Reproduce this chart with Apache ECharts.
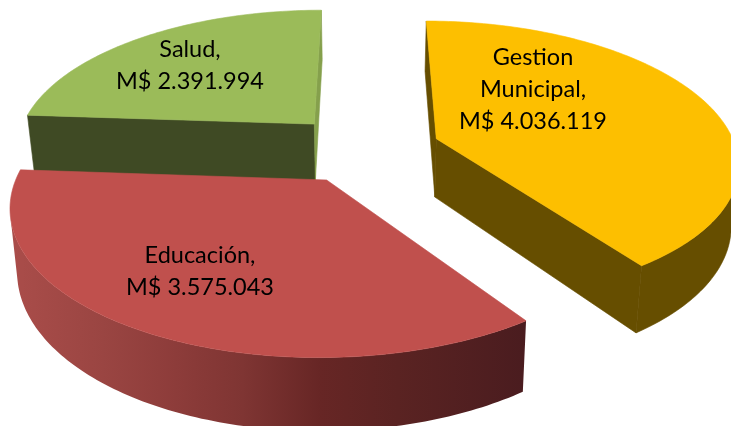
<!DOCTYPE html>
<html>
<head>
<meta charset="utf-8">
<style>html,body{margin:0;padding:0;background:#fff}#c{width:731px;height:426px}</style>
<script src="https://cdn.jsdelivr.net/npm/echarts@6/dist/echarts.min.js"></script>
</head>
<body>
<div id="c"></div>
<script>
// Data, clockwise from the top of the pie
const categories = ['Gestion\nMunicipal', 'Educación', 'Salud'];
const values = [4036119, 3575043, 2391994];

// Painter's order: far slices first
const drawOrder = [2, 0, 1];

// Style and layout, by slice
const topColors = ['#FDBF00', '#C0504D', '#9BBB59'];
const wallColors = ['#664E00', '#7A302E', '#3F4A24'];
const endWallColors = ['#664E00', '#7A302E', '#85A04C'];
const explodeBy = [0.252, 0.25, 0.255];
const labelX = [533, 200, 190];
const labelY = [89, 271, 65];
const LINE_HEIGHT = 32;

// Perspective camera
const VX = 365, VY = -700, H = 849, S = 300, PERSP = 0.162, THICK = 59, S_BOTTOM = 0.98, FAR_RADIUS = 1.02;

function project(X, Z, bottom) {
  const w = 1 / (1 + PERSP * Z);
  return [VX + (bottom ? S * S_BOTTOM : S) * X * w, VY + (bottom ? H + THICK : H) * w];
}
function area(pts) {
  let a = 0;
  pts.forEach((p, i) => { const q = pts[(i + 1) % pts.length]; a += p[0] * q[1] - q[0] * p[1]; });
  return a;
}
function fmt(v) { return 'M$ ' + String(v).replace(/\B(?=(\d{3})+(?!\d))/g, '.'); }
function flat(color) { return { fill: color, stroke: color, lineWidth: 0.6 }; }

const total = values.reduce((a, b) => a + b, 0);
const starts = [];
values.reduce((acc, v, i) => { starts[i] = acc; return acc + v / total * Math.PI * 2; }, 0);

function renderSlice(params, api) {
  const i = api.value(0), v = api.value(1);
  const a0 = starts[i], a1 = a0 + v / total * Math.PI * 2, mid = (a0 + a1) / 2;
  const ox = explodeBy[i] * Math.sin(mid), oz = explodeBy[i] * Math.cos(mid);
  const rim = (t, b) => {
    const c = Math.cos(t);
    return project(ox + Math.sin(t), oz + (c > 0 ? FAR_RADIUS : 1) * c, b);
  };
  const N = Math.ceil((a1 - a0) / (Math.PI / 180));
  const topArc = [], botArc = [];
  for (let k = 0; k <= N; k++) {
    const t = a0 + (a1 - a0) * k / N;
    topArc.push(rim(t, false));
    botArc.push(rim(t, true));
  }
  const aT = project(ox, oz, false), aB = project(ox, oz, true);
  const children = [];
  // Keep only the part of the curved wall that faces the viewer
  const frontTop = [], frontBot = [];
  for (let k = 0; k < N; k++) {
    if (area([topArc[k], topArc[k + 1], botArc[k + 1], botArc[k]]) < 0) {
      if (!frontTop.length) { frontTop.push(topArc[k]); frontBot.push(botArc[k]); }
      frontTop.push(topArc[k + 1]); frontBot.push(botArc[k + 1]);
    }
  }
  const wallStyle = i === 1
    ? { fill: new echarts.graphic.LinearGradient(0, 0, 1, 0, [
        { offset: 0, color: '#AA4D4A' }, { offset: 0.18, color: '#9A4542' },
        { offset: 0.32, color: '#8D3C3A' }, { offset: 0.45, color: '#7F3533' },
        { offset: 0.6, color: '#672625' }, { offset: 0.75, color: '#5A2322' },
        { offset: 1, color: '#4A1C1F' }]), stroke: null, lineWidth: 0 }
    : flat(wallColors[i]);
  if (frontTop.length) {
    children.push({ type: 'polygon', shape: { points: frontTop.concat(frontBot.reverse()) },
      style: wallStyle, silent: true });
  }
  const sq = [aT, topArc[0], botArc[0], aB];
  const eq = [aT, topArc[N], botArc[N], aB];
  if (area(sq) < 0) children.push({ type: 'polygon', shape: { points: sq }, style: flat(wallColors[i]), silent: true });
  if (area(eq) > 0) children.push({ type: 'polygon', shape: { points: eq }, style: flat(endWallColors[i]), silent: true });
  children.push({ type: 'polygon', shape: { points: [aT].concat(topArc) }, style: flat(topColors[i]), silent: true });
  children.push({ type: 'text', silent: true, style: {
    x: labelX[i], y: labelY[i],
    text: categories[i] + ',\n' + fmt(v),
    fill: '#000', font: '23.5px Lato', align: 'center', verticalAlign: 'middle',
    lineHeight: LINE_HEIGHT } });
  return { type: 'group', children };
}

const chart = echarts.init(document.getElementById('c'), null, { renderer: 'canvas' });
chart.setOption({
  animation: false,
  backgroundColor: '#fff',
  series: [{
    type: 'custom',
    coordinateSystem: 'none',
    renderItem: renderSlice,
    encode: { value: 1 },
    data: drawOrder.map(i => [i, values[i]])
  }]
});
</script>
</body>
</html>
